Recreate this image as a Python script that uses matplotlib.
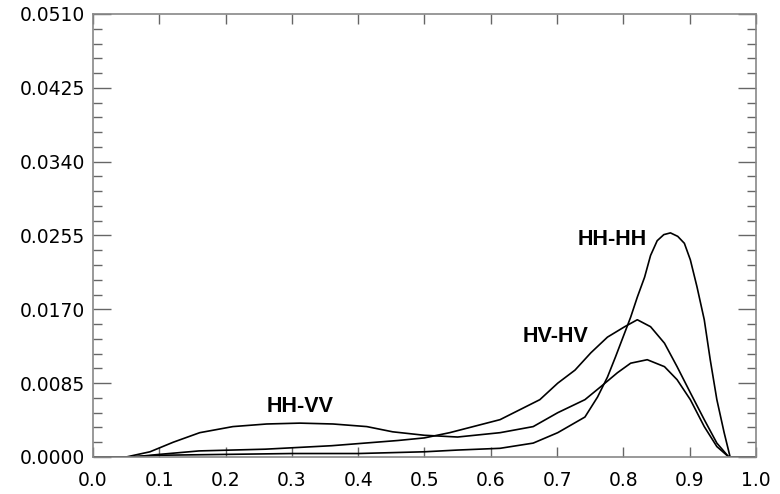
import matplotlib
matplotlib.use('Agg')
from matplotlib import pyplot as plt
from matplotlib.ticker import MultipleLocator, AutoMinorLocator, FormatStrFormatter
import numpy as np

plt.rcParams['font.family'] = 'DejaVu Sans'
plt.rcParams['font.size'] = 13.5

# HH-HH curve
hhhh_x = [0.0, 0.05, 0.1, 0.2, 0.3, 0.4, 0.5, 0.55, 0.614, 0.664, 0.701, 0.742, 0.761,
          0.776, 0.788, 0.802, 0.811, 0.821, 0.832, 0.841, 0.851, 0.861, 0.871, 0.882,
          0.892, 0.901, 0.911, 0.922, 0.931, 0.941, 0.952, 0.961, 1.0]
hhhh_y = [0.0, 0.0, 0.0002, 0.0003, 0.0004, 0.0004, 0.0006, 0.0008, 0.0010, 0.0016, 0.0028,
          0.0046, 0.0069, 0.0092, 0.0115, 0.0143, 0.0161, 0.0184, 0.0207, 0.0232, 0.0249,
          0.0256, 0.0258, 0.0254, 0.0246, 0.0227, 0.0196, 0.0158, 0.0112, 0.0066, 0.0028,
          0.0, 0.0]

# HV-HV curve
hvhv_x = [0.0, 0.06, 0.1, 0.16, 0.26, 0.36, 0.46, 0.5, 0.538, 0.614, 0.674, 0.701, 0.727,
          0.751, 0.776, 0.802, 0.821, 0.841, 0.862, 0.881, 0.901, 0.922, 0.941, 0.959, 1.0]
hvhv_y = [0.0, 0.0, 0.0003, 0.0007, 0.0009, 0.0013, 0.0019, 0.0022, 0.0028, 0.0043, 0.0066,
          0.0085, 0.0100, 0.0120, 0.0138, 0.0150, 0.0158, 0.0150, 0.0131, 0.0104, 0.0074,
          0.0043, 0.0016, 0.0, 0.0]

# HH-VV curve
hhvv_x = [0.0, 0.05, 0.086, 0.121, 0.161, 0.211, 0.262, 0.312, 0.362, 0.413, 0.452, 0.5,
          0.55, 0.614, 0.664, 0.701, 0.742, 0.766, 0.791, 0.811, 0.836, 0.862, 0.881, 0.901,
          0.922, 0.941, 0.959, 1.0]
hhvv_y = [0.0, 0.0, 0.0006, 0.0017, 0.0028, 0.0035, 0.0038, 0.0039, 0.0038, 0.0035, 0.0029,
          0.0025, 0.0023, 0.0028, 0.0035, 0.0051, 0.0066, 0.0081, 0.0097, 0.0108, 0.0112,
          0.0104, 0.0089, 0.0066, 0.0035, 0.0012, 0.0, 0.0]

labels = ['HH-HH', 'HV-HV', 'HH-VV']
label_pos = [(0.783, 0.0250), (0.698, 0.0139), (0.312, 0.0058)]

fig = plt.figure(figsize=(7.8, 4.94), dpi=100)
ax = fig.add_axes([0.1192, 0.0749, 0.85, 0.8968])

# draw the three coherence curves
for xs, ys in [(hhhh_x, hhhh_y), (hvhv_x, hvhv_y), (hhvv_x, hhvv_y)]:
    ax.plot(xs, ys, color='black', lw=1.2)

# curve names
for name, (tx, ty) in zip(labels, label_pos):
    ax.text(tx, ty, name, ha='center', va='center', fontsize=15.5,
            fontweight='bold', family='Liberation Sans')

ax.set_xlim(0, 1)
ax.set_ylim(0, 0.051)
ax.xaxis.set_major_locator(MultipleLocator(0.1))
ax.yaxis.set_major_locator(MultipleLocator(0.0085))
ax.yaxis.set_minor_locator(AutoMinorLocator(5))
ax.xaxis.set_major_formatter(FormatStrFormatter('%.1f'))
ax.yaxis.set_major_formatter(FormatStrFormatter('%.4f'))

ax.tick_params(axis='x', which='major', direction='in', length=7, width=1,
               color='#666666', top=True, pad=10)
ax.tick_params(axis='y', which='major', direction='in', length=13, width=1,
               color='#666666', right=True, pad=6)
ax.tick_params(axis='y', which='minor', direction='in', length=6.5, width=1,
               color='#666666', right=True)

for sp in ax.spines.values():
    sp.set_color('#888888')
    sp.set_linewidth(1.2)

plt.savefig('out.png', dpi=100)
